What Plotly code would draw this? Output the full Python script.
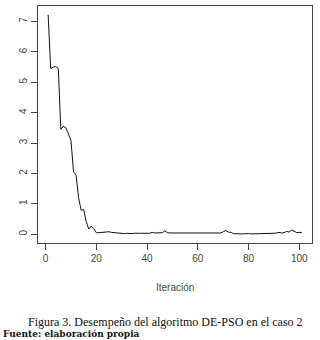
import plotly.graph_objects as go

iteracion = list(range(1, 102))
desempeno = [
    7.22, 5.45, 5.50, 5.52, 5.45, 3.45, 3.55, 3.50, 3.30, 3.08,
    2.05, 1.95, 1.20, 0.79, 0.81, 0.42, 0.17, 0.26, 0.18, 0.05,
    0.05, 0.06, 0.05, 0.06, 0.08, 0.06, 0.05, 0.04, 0.03, 0.02,
    0.02, 0.03, 0.02, 0.02, 0.03, 0.02, 0.03, 0.03, 0.02, 0.03,
    0.03, 0.06, 0.04, 0.05, 0.06, 0.05, 0.11, 0.05, 0.04, 0.04,
    0.04, 0.04, 0.03, 0.03, 0.04, 0.03, 0.04, 0.03, 0.04, 0.04,
    0.03, 0.04, 0.05, 0.04, 0.04, 0.05, 0.04, 0.05, 0.04, 0.08,
    0.12, 0.07, 0.06, 0.02, 0.01, 0.01, 0.01, 0.01, 0.02, 0.02,
    0.01, 0.01, 0.01, 0.01, 0.01, 0.01, 0.01, 0.01, 0.01, 0.03,
    0.04, 0.06, 0.04, 0.05, 0.09, 0.07, 0.14, 0.10, 0.05, 0.06,
    0.05,
]
x_ticks = [0, 20, 40, 60, 80, 100]
y_ticks = [0, 1, 2, 3, 4, 5, 6, 7]
x_title = "Iteración"
caption = "Figura 3. Desempeño del algoritmo DE-PSO en el caso 2"
source = "Fuente: elaboración propia"

fig = go.Figure()
fig.add_trace(go.Scatter(x=iteracion, y=desempeno, mode="lines",
                         line=dict(color="#111", width=1), showlegend=False))

axis_common = dict(showline=True, mirror=True, linecolor="#444", linewidth=1,
                   ticks="outside", ticklen=6, tickcolor="#444", showgrid=False,
                   zeroline=False, tickfont=dict(family="Liberation Sans", size=10, color="#444"))

fig.update_xaxes(range=[-3, 105], tickvals=x_ticks, **axis_common)
fig.update_yaxes(range=[-0.29, 7.51], tickvals=y_ticks, tickangle=-90, **axis_common)

fig.update_layout(
    width=320, height=340,
    margin=dict(l=38, r=8, t=6, b=97),
    plot_bgcolor="white", paper_bgcolor="white",
    annotations=[
        dict(text=x_title, xref="paper", yref="paper", x=0.5, y=(243 - 287) / 237,
             xanchor="center", yanchor="middle", showarrow=False,
             font=dict(family="Liberation Sans", size=10, color="#444")),
        dict(text=caption, xref="paper", yref="paper", x=(165 - 38) / 274, y=(243 - 322) / 237,
             xanchor="center", yanchor="middle", showarrow=False,
             font=dict(family="Liberation Serif", size=12, color="#111")),
        dict(text="<b>" + source + "</b>", xref="paper", yref="paper", x=(1 - 38) / 274,
             y=(243 - 334) / 237, xanchor="left", yanchor="middle", showarrow=False,
             font=dict(family="DejaVu Serif", size=9, color="#111")),
    ],
)

fig.write_html("out.html", config={"displayModeBar": False},
               post_script="document.body.style.margin='0';document.body.style.overflow='hidden';")
